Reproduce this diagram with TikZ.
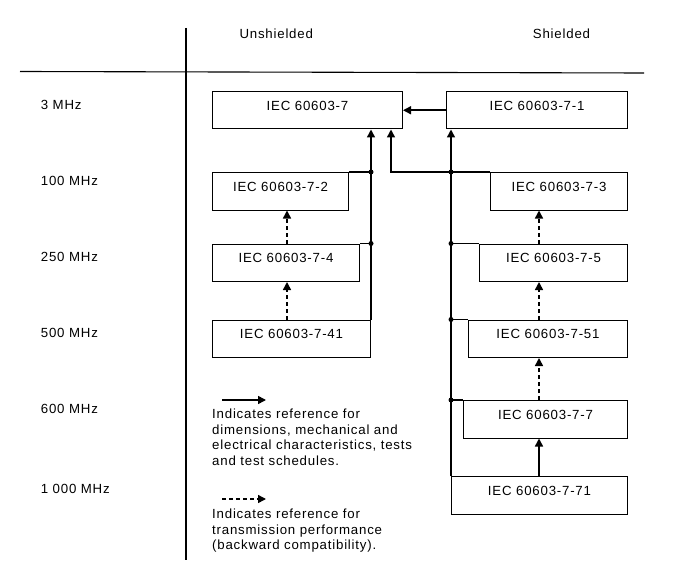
\documentclass[tikz,border=0pt]{standalone}
\usepackage{fontspec}
\setmainfont{Liberation Sans}[LetterSpace=6]
\usetikzlibrary{arrows.meta,calc}
\tikzset{
  every node/.style={font=\fontsize{13.3}{15.7}\selectfont},
  box/.style={draw,line width=1bp,anchor=north west,inner xsep=0,inner ysep=0,
    text height=18.8bp,text depth=18.7bp,minimum height=37.5bp},
  conn/.style={line width=1.5bp},
  solidarr/.style={conn,-{Triangle[length=8bp,width=8bp]}},
  dasharr/.style={conn,dash pattern=on 4bp off 3bp,-{Triangle[length=8bp,width=8bp]}},
  jdot/.style={circle,fill,inner sep=0,minimum size=5bp},
  lbl/.style={anchor=base west,inner sep=0},
  rule/.style={line width=1.1bp},
}
\begin{document}
\begin{tikzpicture}[x=1bp,y=-1bp]
\useasboundingbox (0,0) rectangle (697,584);
% frame lines
\coordinate (vt) at (186,28);
\coordinate (vb) at (186,560);
\coordinate (hl) at (20,71.5);
\coordinate (hr) at (644,73);
\draw[rule] (vt) -- (vb);
\draw[rule] (hl) -- (hr);
% headers
\node[lbl] (hu) at (239.3,39) {Unshielded};
\node[lbl] (hs) at (532.7,39) {Shielded};
% frequency labels
\node[lbl] (f1) at (40.7,109.3) {3 MHz};
\node[lbl] (f2) at (40.7,185.3) {100 MHz};
\node[lbl] (f3) at (40.7,261.3) {250 MHz};
\node[lbl] (f4) at (40.7,337.3) {500 MHz};
\node[lbl] (f5) at (40.7,413.3) {600 MHz};
\node[lbl] (f6) at (40.7,493.3) {1 000 MHz};
% boxes
\node[box,minimum width=190bp] (b7) at (212,91) {IEC 60603-7};
\node[box,minimum width=181bp] (b71) at (446,91) {IEC 60603-7-1};
\node[box,minimum width=136bp] (b72) at (212,172) {IEC 60603-7-2};
\node[box,minimum width=137bp] (b73) at (490,172) {IEC 60603-7-3};
\node[box,minimum width=147bp] (b74) at (212,243.5) {IEC 60603-7-4};
\node[box,minimum width=148bp] (b75) at (479,243.5) {IEC 60603-7-5};
\node[box,minimum width=158bp] (b741) at (212,319.5) {IEC 60603-7-41};
\node[box,minimum width=159bp] (b751) at (468,319.5) {IEC 60603-7-51};
\node[box,minimum width=164bp] (b77) at (463,400) {IEC 60603-7-7};
\node[box,minimum width=176bp] (b771) at (451,476) {IEC 60603-7-71};
% columns for vertical connectors
\coordinate (ax) at (287,0);
\coordinate (bx) at (539,0);
\coordinate (mx) at (391,0);
% 7-1 -> 7
\draw[solidarr] (b71.west) -- (b7.east);
% left trunk
\draw[solidarr] (b741.north east) -- (b741.north east |- b7.south);
\node[jdot] (dl1) at (b741.north east |- b72.north) {};
\node[jdot] (dl2) at (b741.north east |- b74.north) {};
\draw[conn] (b72.north east) -- (dl1.center);
\draw[conn] (b74.north east) -- (dl2.center);
% right trunk
\draw[solidarr] (b771.north west) -- (b771.north west |- b71.south);
\node[jdot] (dr1) at (b771.north west |- b73.north) {};
\node[jdot] (dr2) at (b771.north west |- b75.north) {};
\node[jdot] (dr3) at (b771.north west |- b751.north) {};
\node[jdot] (dr4) at (b771.north west |- b77.north) {};
\draw[solidarr] (b73.north west) -- (mx |- b73.north) -- (mx |- b7.south);
\draw[conn] (b75.north west) -- (dr2.center);
\draw[conn] (b751.north west) -- (dr3.center);
\draw[conn] (b77.north west) -- (dr4.center);
% dashed references
\draw[dasharr] (ax |- b74.north) -- (ax |- b72.south);
\draw[dasharr] (ax |- b741.north) -- (ax |- b74.south);
\draw[dasharr] (bx |- b75.north) -- (bx |- b73.south);
\draw[dasharr] (bx |- b751.north) -- (bx |- b75.south);
\draw[dasharr] (bx |- b77.north) -- (bx |- b751.south);
\draw[solidarr] (bx |- b771.north) -- (bx |- b77.south);
% legend
\coordinate (l1s) at (222,400);
\coordinate (l1e) at (266,400);
\coordinate (l2s) at (222,499);
\coordinate (l2e) at (266,499);
\draw[solidarr] (l1s) -- (l1e);
\draw[dasharr] (l2s) -- (l2e);
\node[anchor=north west,inner sep=0,align=left] (t1) at (212,408.8)
  {Indicates reference for\\dimensions, mechanical and\\electrical characteristics, tests\\and test schedules.};
\node[anchor=north west,inner sep=0,align=left] (t2) at (212,508.8)
  {Indicates reference for\\transmission performance\\(backward compatibility).};
\end{tikzpicture}
\end{document}
